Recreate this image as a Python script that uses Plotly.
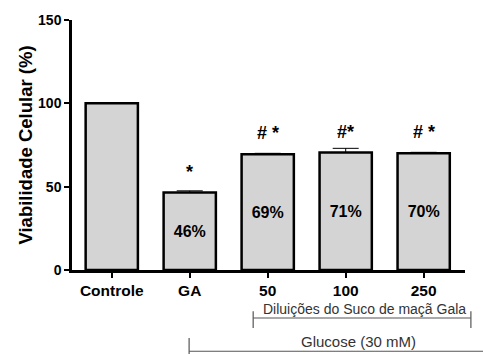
import plotly.graph_objects as go

categories = ["Controle", "GA", "50", "100", "250"]
viability = [100, 46.5, 69.5, 70.5, 70]
error_up = [0, 1.0, 0.5, 2.5, 0.6]
bar_labels = ["", "46%", "69%", "71%", "70%"]
sig_marks = ["", "*", "# *", "#*", "# *"]
y_ticks = [0, 50, 100, 150]

FONT = "Liberation Sans, Arial, sans-serif"

fig = go.Figure()
fig.add_trace(go.Bar(
    x=categories, y=viability,
    width=0.67,
    marker=dict(color="#d4d4d4", line=dict(color="black", width=2.5)),
    error_y=dict(type="data", array=error_up, arrayminus=[0]*len(error_up),
                 symmetric=False, color="black", thickness=1, width=13),
    text=bar_labels, textposition="inside", insidetextanchor="middle",
    textangle=0, constraintext="none",
    textfont=dict(family=FONT, size=16, color="black", weight="bold"),
    hoverinfo="skip",
))

for i, (val, mark) in enumerate(zip(viability, sig_marks)):
    if mark:
        fig.add_annotation(x=i, y=val, text="<b>%s</b>" % mark, showarrow=False,
                           yanchor="middle", yshift=21,
                           font=dict(family=FONT, size=18, color="black"))

# group labels and brackets below axis
fig.add_annotation(xref="paper", yref="paper", x=0.745, y=-0.154, text="Diluições do Suco de maçã Gala",
                   showarrow=False, yanchor="middle", xanchor="center",
                   font=dict(family=FONT, size=14, color="#333"))
fig.add_shape(type="line", xref="paper", yref="paper", x0=0.461, x1=1.015, y0=-0.192, y1=-0.192,
              line=dict(color="#555", width=1.2))
for xp in [0.461, 1.015]:
    fig.add_shape(type="line", xref="paper", yref="paper", x0=xp, x1=xp, y0=-0.165, y1=-0.232,
                  line=dict(color="#555", width=1.2))

fig.add_annotation(xref="paper", yref="paper", x=0.73, y=-0.285, text="Glucose (30 mM)",
                   showarrow=False, yanchor="middle", xanchor="center",
                   font=dict(family=FONT, size=15, color="#333"))
fig.add_shape(type="line", xref="paper", yref="paper", x0=0.298, x1=1.05, y0=-0.325, y1=-0.325,
              line=dict(color="#555", width=1.2))
fig.add_shape(type="line", xref="paper", yref="paper", x0=0.298, x1=0.298, y0=-0.272, y1=-0.34,
              line=dict(color="#555", width=1.2))

fig.update_layout(
    width=483, height=354,
    margin=dict(l=72, r=18, t=20, b=84),
    plot_bgcolor="white", paper_bgcolor="white",
    showlegend=False,
    font=dict(family=FONT, color="black"),
    bargap=0.33,
)
fig.update_xaxes(
    range=[-0.51, 4.53], showline=True, linecolor="black", linewidth=2.5,
    ticks="outside", ticklen=5, tickwidth=2, tickcolor="black",
    tickfont=dict(family=FONT, size=15.5, color="black", weight="bold"),
    showgrid=False, zeroline=False, fixedrange=True,
)
fig.update_yaxes(
    range=[0, 150], tickvals=y_ticks, showline=True, linecolor="black", linewidth=2.5,
    ticks="outside", ticklen=5, tickwidth=2, tickcolor="black",
    tickfont=dict(family=FONT, size=14, color="black", weight="bold"),
    showgrid=False, zeroline=False, fixedrange=True,
    title=dict(text="Viabilidade Celular (%)", standoff=1,
               font=dict(family=FONT, size=18.5, color="black", weight="bold")),
)

fig.write_html("out.html")
